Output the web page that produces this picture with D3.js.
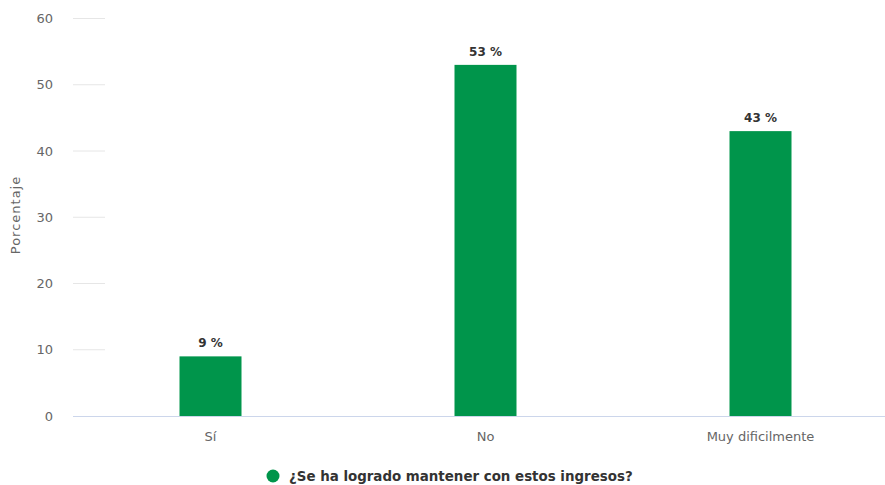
<!DOCTYPE html>
<html><head><meta charset="utf-8">
<script src="https://cdn.jsdelivr.net/npm/d3@7"></script>
<style>body{margin:0;background:#fff;} svg{display:block;font-family:"DejaVu Sans",sans-serif;}</style>
</head><body><svg id="c" width="885" height="485"></svg>
<script>
const categories = ["Sí", "No", "Muy dificilmente"];
const values = [9, 53, 43];
const yTicks = [0, 10, 20, 30, 40, 50, 60];
const seriesName = "¿Se ha logrado mantener con estos ingresos?";
const yTitle = "Porcentaje";
const barColor = "#00954b";

const svg = d3.select("#c");
const x = d3.scaleBand().domain(categories).range([73, 898]);
const y = d3.scaleLinear().domain([0, 60]).range([416, 18.5]);

// gridlines (short)
svg.append("g").selectAll("line").data(yTicks.filter(d => d > 0)).join("line")
  .attr("x1", 73).attr("x2", 105).attr("y1", d => y(d)).attr("y2", d => y(d))
  .attr("stroke", "#e6e6e6").attr("stroke-width", 1);

// y tick labels
svg.append("g").selectAll("text").data(yTicks).join("text")
  .attr("x", 53).attr("y", d => y(d)).attr("dy", "0.35em")
  .attr("text-anchor", "end").attr("fill", "#666").style("font-size", "13px")
  .text(d => d);

// y title
svg.append("text").attr("transform", "translate(20,215) rotate(-90)")
  .attr("text-anchor", "middle").attr("fill", "#666").style("font-size", "13px")
  .style("letter-spacing", "1px").text(yTitle);

// bars
const bw = 62;
svg.append("g").selectAll("rect").data(values).join("rect")
  .attr("x", (d, i) => x(categories[i]) + x.bandwidth() / 2 - bw / 2)
  .attr("width", bw)
  .attr("y", d => y(d)).attr("height", d => y(0) - y(d))
  .attr("fill", barColor);

// baseline
svg.append("line").attr("x1", 73).attr("x2", 885).attr("y1", y(0) + 0.5).attr("y2", y(0) + 0.5)
  .attr("stroke", "#ccd6eb").attr("stroke-width", 1);

// x labels
svg.append("g").selectAll("text").data(categories).join("text")
  .attr("x", d => x(d) + x.bandwidth() / 2).attr("y", 436).attr("dy", "0.35em")
  .attr("text-anchor", "middle").attr("fill", "#666").style("font-size", "13px")
  .text(d => d);

// data labels
svg.append("g").selectAll("text").data(values).join("text")
  .attr("x", (d, i) => x(categories[i]) + x.bandwidth() / 2).attr("y", d => y(d) - 9)
  .attr("text-anchor", "middle").attr("fill", "#333").style("font-size", "12px").style("font-weight", "bold")
  .attr("stroke", "#fff").attr("stroke-width", 2).attr("paint-order", "stroke")
  .text(d => d + " %");

// legend
svg.append("circle").attr("cx", 273).attr("cy", 476).attr("r", 6.5).attr("fill", barColor);
svg.append("text").attr("x", 289).attr("y", 476).attr("dy", "0.35em")
  .attr("fill", "#333").style("font-size", "13.4px").style("font-weight", "bold").text(seriesName);
</script></body></html>
